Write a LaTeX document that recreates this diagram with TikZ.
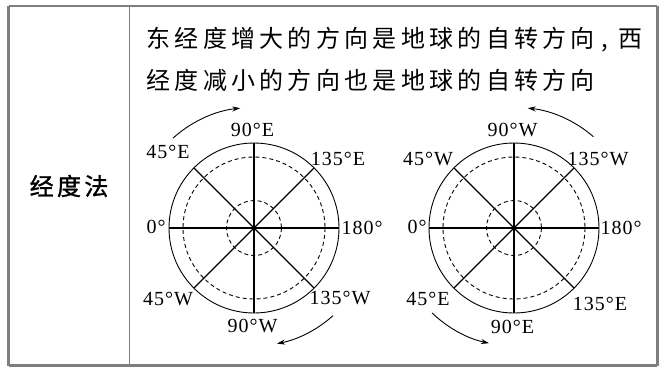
\documentclass[tikz,border=0pt]{standalone}
\usepackage{fontspec}
\setmainfont{Liberation Serif}
\newfontfamily\cjk{Noto Sans CJK SC}
\newfontfamily\cjkh[LetterSpace=14,FakeBold=1.2]{Noto Sans CJK SC}
\newfontfamily\labfont[LetterSpace=5]{Liberation Serif}
\usetikzlibrary{arrows.meta}
\definecolor{framegray}{HTML}{7E7E82}
\makeatletter
\newcommand\spacedrow[2]{\def\sr@pitch{#1}\sr@loop#2\relax}
\def\sr@loop#1{\ifx#1\relax\else\makebox[\sr@pitch][l]{#1}\expandafter\sr@loop\fi}
\makeatother
\begin{document}
\begin{tikzpicture}[x=1pt,y=-1pt,
  thinframe/.style={draw=framegray,line width=1.8pt},
  thickframe/.style={draw=framegray,line width=3pt},
  divider/.style={draw=framegray,line width=1.3pt},
  lab/.style={font=\labfont\fontsize{20}{20}\selectfont,inner sep=0pt},
  axisline/.style={line width=1.9pt},
  diagline/.style={line width=1.2pt},
  rim/.style={line width=0.9pt},
  dashring/.style={line width=0.9pt,dash pattern=on 4pt off 3pt},
  rotarrow/.style={line width=0.9pt,-{Stealth[length=8pt,width=5pt]}},
  bodytext/.style={inner sep=0pt,anchor=west,font=\cjk\fontsize{24}{24}\selectfont},
  headtext/.style={font=\cjkh\fontsize{24}{24}\selectfont,inner sep=0pt,anchor=west}
]
\useasboundingbox (0,0) rectangle (665,368);
% table frame
\coordinate (ftl) at (8.7,6);
\coordinate (ftr) at (657,6);
\coordinate (fbl) at (8.7,365.8);
\coordinate (fbr) at (657,365.8);
\draw[thinframe] (ftl) -- (ftr);
\draw[thickframe] (ftl) -- (fbl);
\draw[thickframe] (ftr) -- (fbr);
\draw[thickframe] (fbl) -- (fbr);
\coordinate (dtop) at (129.3,6);
\coordinate (dbot) at (129.3,365.8);
\draw[divider] (dtop) -- (dbot);
% texts
\node[headtext] (head) at (29.5,186) {经度法};
\node[bodytext] (line1) at (146.3,39.5) {\spacedrow{28.3pt}{东经度增大的方向是地球的自转方向}\kern2.5pt,\kern10pt 西};
\node[bodytext] (line2) at (146.3,80) {\spacedrow{28.3pt}{经度减小的方向也是地球的自转方向}};
% circles
\coordinate (c1) at (254,228);
\coordinate (c2) at (514,228);
\foreach \c in {c1,c2}{
  \foreach \a in {0,45,...,315}{
    \path (\c) ++(\a:85) coordinate (\c-\a);
  }
  \draw[rim] (\c) circle[radius=85];
  \draw[dashring] (\c) circle[radius=71];
  \draw[dashring] (\c) circle[radius=27.5];
  \draw[axisline] (\c-180) -- (\c-0);
  \draw[axisline] (\c-270) -- (\c-90);
  \draw[diagline] (\c-225) -- (\c-45);
  \draw[diagline] (\c-135) -- (\c-315);
}
% labels circle 1
\node[lab] (l1n) at (252.5,129.5) {90°E};
\node[lab] (l1nw) at (168,152) {45°E};
\node[lab] (l1ne) at (338,159) {135°E};
\node[lab] (l1w) at (156,226.5) {0°};
\node[lab] (l1e) at (362,227.5) {180°};
\node[lab] (l1sw) at (168,299) {45°W};
\node[lab] (l1se) at (340,297.5) {135°W};
\node[lab] (l1s) at (252.5,326) {90°W};
% labels circle 2
\node[lab] (l2n) at (512.5,129.5) {90°W};
\node[lab] (l2nw) at (428,159) {45°W};
\node[lab] (l2ne) at (598,159) {135°W};
\node[lab] (l2w) at (417,226.5) {0°};
\node[lab] (l2e) at (621,227.5) {180°};
\node[lab] (l2sw) at (428,299) {45°E};
\node[lab] (l2se) at (600,304) {135°E};
\node[lab] (l2s) at (512.5,327) {90°E};
% rotation arrows
\draw[rotarrow] (c1) ++(228:121) arc[start angle=228,end angle=264,radius=119];
\draw[rotarrow] (c1) ++(48:118) arc[start angle=48,end angle=79,radius=117];
\draw[rotarrow] (c2) ++(311:121) arc[start angle=311,end angle=276,radius=119];
\draw[rotarrow] (c2) ++(134:118) arc[start angle=134,end angle=102,radius=117];
\end{tikzpicture}
\end{document}
